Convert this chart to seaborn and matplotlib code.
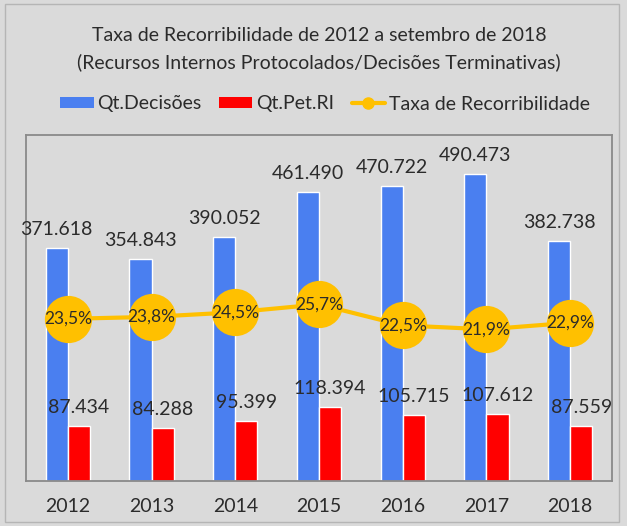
import pandas as pd
import seaborn as sns
import matplotlib.pyplot as plt
from matplotlib.lines import Line2D
from matplotlib.patches import Patch, Rectangle

# -----------------------------
# dados
# -----------------------------
anos = ["2012", "2013", "2014", "2015", "2016", "2017", "2018"]
qt_decisoes = [371618, 354843, 390052, 461490, 470722, 490473, 382738]
qt_pet_ri = [87434, 84288, 95399, 118394, 105715, 107612, 87559]
taxa = [23.5, 23.8, 24.5, 25.7, 22.5, 21.9, 22.9]

titulo = ("Taxa de Recorribilidade de 2012 a setembro de 2018\n"
          "(Recursos Internos Protocolados/Decisões Terminativas)")

azul = "#4a7ff0"
vermelho = "#ff0000"
amarelo = "#ffc000"
fundo = "#dadada"
texto = "#2b2b2b"

df = pd.DataFrame({
    "ano": anos * 2,
    "valor": qt_decisoes + qt_pet_ri,
    "serie": ["Qt.Decisões"] * 7 + ["Qt.Pet.RI"] * 7,
})

sns.set_style("white")
plt.rcParams["font.family"] = ["Lato", "DejaVu Sans"]

fig = plt.figure(figsize=(6.27, 5.26), dpi=100, facecolor=fundo)
ax = fig.add_axes([26 / 627, 45 / 526, 586 / 627, 346 / 526])
ax.set_facecolor(fundo)

# moldura externa
fig.patches.append(Rectangle((5 / 627, 4 / 526), 614 / 627, 518 / 526,
                             transform=fig.transFigure, fill=False,
                             edgecolor="#b5b5b5", linewidth=1.0))

# -----------------------------
# barras
# -----------------------------
sns.barplot(data=df, x="ano", y="valor", hue="serie",
            palette=[azul, vermelho], width=0.53, gap=0,
            edgecolor="white", linewidth=1.0, saturation=1,
            legend=False, ax=ax)
ax.set_ylim(0, 552000)
ax.set_xlim(-0.5, 6.5)

fmt = lambda v: f"{v:,}".replace(",", ".")
ax.bar_label(ax.containers[0], labels=[fmt(v) for v in qt_decisoes],
             padding=7, fontsize=14, color=texto)
ax.bar_label(ax.containers[1], labels=[fmt(v) for v in qt_pet_ri],
             padding=7, fontsize=14, color=texto)

ax.set_xlabel("")
ax.set_ylabel("")
ax.set_yticks([])
ax.tick_params(axis="x", length=0, pad=12, labelsize=14, labelcolor=texto)
for s in ax.spines.values():
    s.set_color("#8a8a8a")
    s.set_linewidth(1.3)

# -----------------------------
# linha (eixo secundário)
# -----------------------------
ax2 = ax.twinx()
sns.lineplot(x=list(range(len(anos))), y=taxa, ax=ax2, color=amarelo,
             linewidth=3, marker="o", markersize=34, markeredgewidth=0)
ax2.set_ylim(-1.2, 51.5)
ax2.set_yticks([])
ax2.set_ylabel("")
for s in ax2.spines.values():
    s.set_visible(False)
for i, t in enumerate(taxa):
    ax2.text(i, t, f"{t:.1f}%".replace(".", ","), ha="center", va="center",
             fontsize=12.5, color=texto, zorder=5)

# -----------------------------
# título e legenda
# -----------------------------
fig.text(319 / 627, 1 - 49 / 526, titulo, ha="center", va="center",
         fontsize=14, color=texto, linespacing=1.6)

handles = [
    Patch(facecolor=azul, edgecolor="none"),
    Patch(facecolor=vermelho, edgecolor="none"),
    Line2D([0], [0], color=amarelo, linewidth=3, marker="o", markersize=8),
]
fig.legend(handles, ["Qt.Decisões", "Qt.Pet.RI", "Taxa de Recorribilidade"],
           loc="center", bbox_to_anchor=(325 / 627, 1 - 104 / 526), ncol=3,
           frameon=False, fontsize=14, handlelength=1.7, handleheight=0.55,
           handletextpad=0.2, columnspacing=0.9, labelcolor=texto)

plt.savefig("out.png", dpi=100, facecolor=fundo)
